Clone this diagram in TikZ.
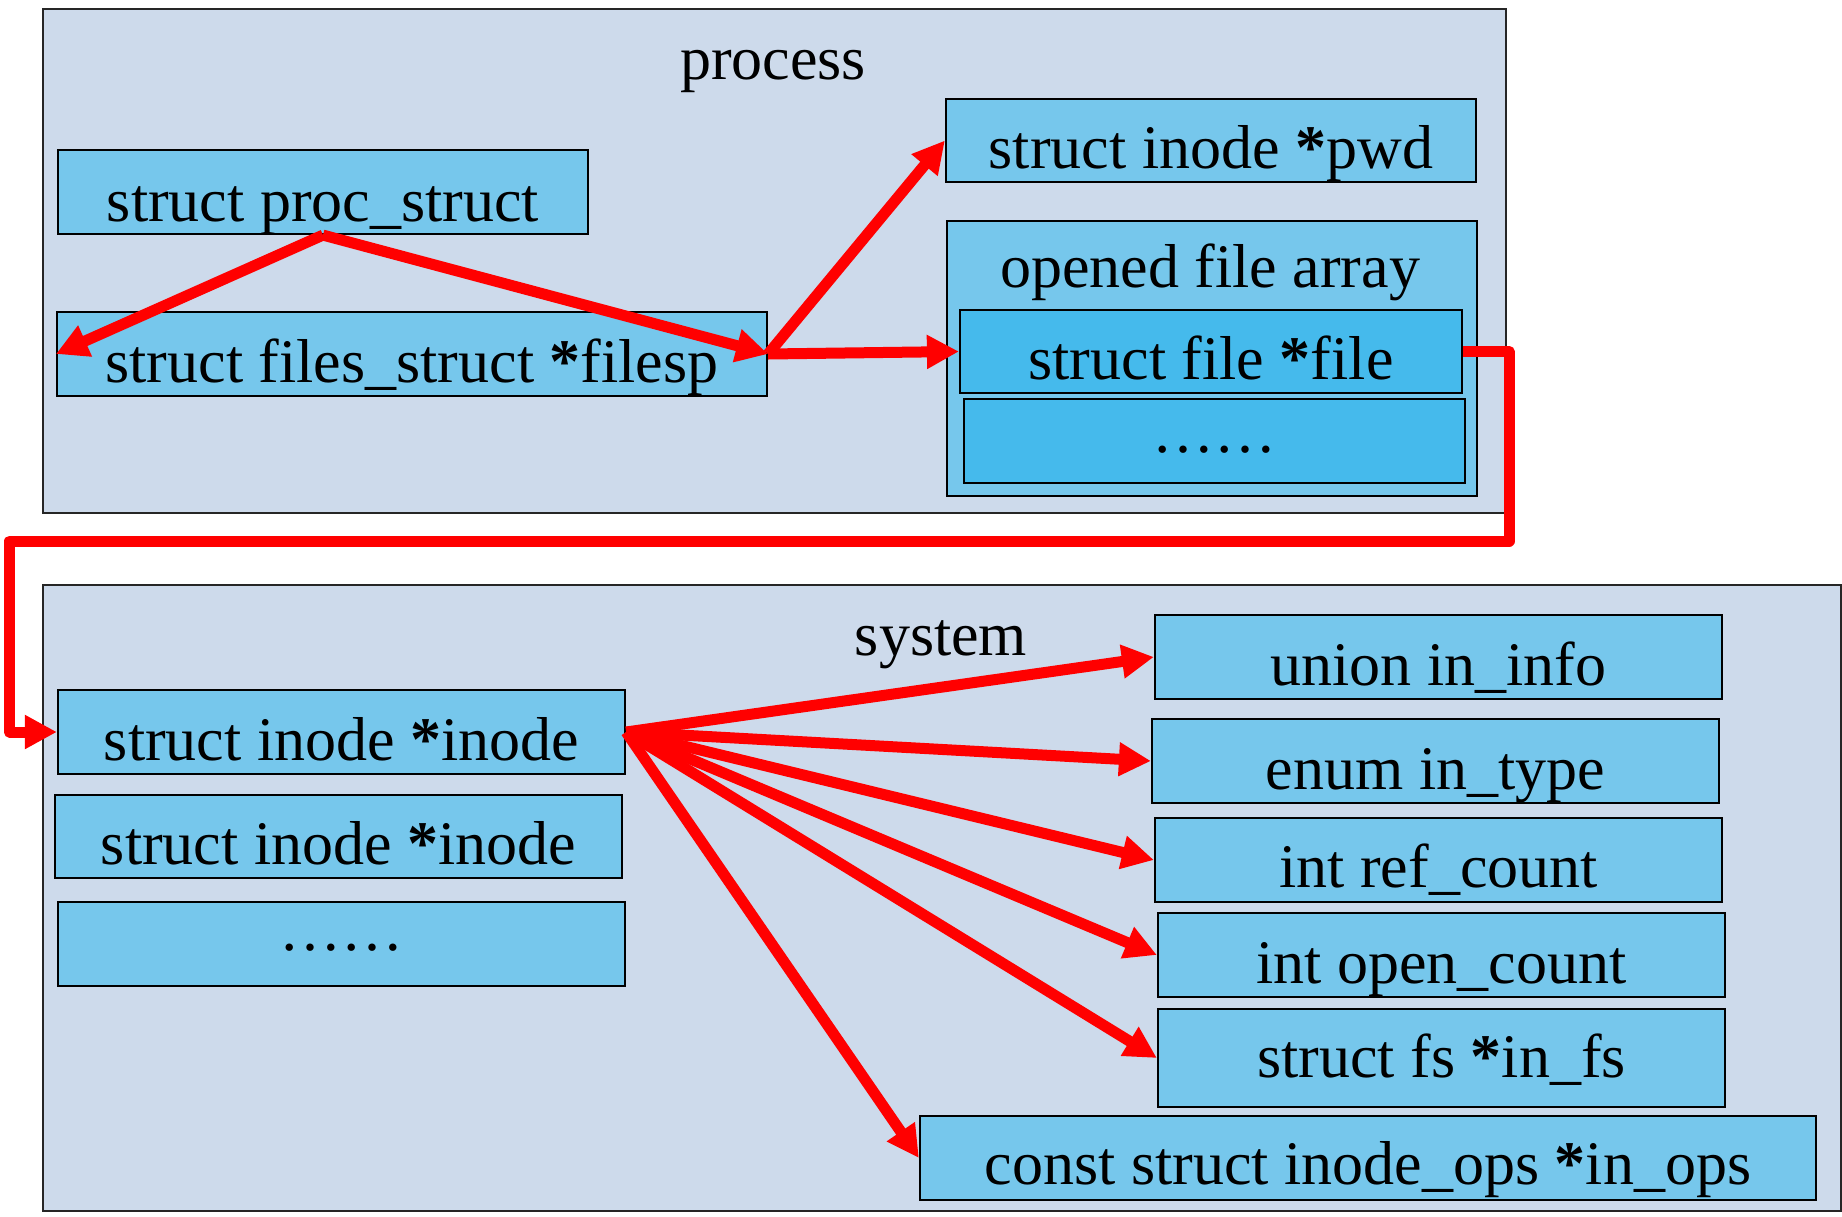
\documentclass[tikz,border=0pt]{standalone}
\usepackage{fontspec}
\setmainfont{Liberation Serif}
\usetikzlibrary{arrows.meta}
\definecolor{contfill}{HTML}{CDDAEB}
\definecolor{boxfill}{HTML}{76C7EC}
\definecolor{innerfill}{HTML}{45BAEC}
\definecolor{linkred}{HTML}{FF0000}
\newcommand\ptrstar{\textbf{*}}
\begin{document}
\begin{tikzpicture}[x=1pt,y=-1pt,
  container/.style={draw=black!85, line width=2pt, fill=contfill, inner sep=0pt, anchor=north west},
  field/.style={draw=black, line width=2.2pt, fill=boxfill, inner sep=0pt, anchor=base,
    font=\fontsize{62pt}{70pt}\selectfont},
  innerfield/.style={field, fill=innerfill},
  title/.style={inner sep=0pt, anchor=base, font=\fontsize{62pt}{70pt}\selectfont},
  link/.style={draw=linkred, line width=11pt, line join=round,
    -{Triangle[length=32pt,width=32pt]}}]
\useasboundingbox (0,0) rectangle (1842,1216);

% containers
\node[container, minimum width=1463pt, minimum height=504pt] (process) at (42,8) {};
\node[container, minimum width=1798pt, minimum height=626pt] (system) at (42,584) {};
\node[title] (ptitle) at (773,79) {process};
\node[title] (stitle) at (941,655) {system};

% process fields
\node[field, minimum width=530pt, text height=71pt, text depth=13pt] (proc) at (323,221) {struct proc\_struct};
\node[field, minimum width=710pt, text height=70pt, text depth=14pt] (files) at (412,382) {struct files\_struct \ptrstar filesp};
\node[field, minimum width=530pt, text height=69pt, text depth=14pt] (pwd) at (1211,168) {struct inode \ptrstar pwd};
\node[field, minimum width=530pt, minimum height=275pt, anchor=north west] (array) at (946,220) {};
\node[title] (atitle) at (1210,287) {opened file array};
\node[innerfield, minimum width=502pt, text height=69pt, text depth=14pt] (file) at (1211,379) {struct file \ptrstar file};
\node[innerfield, minimum width=501pt, text height=53pt, text depth=31pt] (fdots) at (1214.5,452) {……};

% system fields
\node[field, minimum width=567pt, text height=70pt, text depth=14pt] (inodeA) at (341.5,760) {struct inode \ptrstar inode};
\node[field, minimum width=567pt, text height=69pt, text depth=14pt] (inodeB) at (338.5,864) {struct inode \ptrstar inode};
\node[field, minimum width=567pt, text height=48pt, text depth=36pt] (idots) at (341.5,950) {……};

\node[field, minimum width=567pt, text height=70.5pt, text depth=13.5pt] (info) at (1438.5,685.5) {union in\_info};
\node[field, minimum width=567pt, text height=70pt, text depth=14pt] (type) at (1435.5,789) {enum in\_type};
\node[field, minimum width=567pt, text height=69pt, text depth=15pt] (ref) at (1438.5,887) {int ref\_count};
\node[field, minimum width=567pt, text height=70pt, text depth=14pt] (open) at (1441.5,983) {int open\_count};
\node[field, minimum width=567pt, text height=68pt, text depth=30pt] (fs) at (1441.5,1077) {struct fs \ptrstar in\_fs};
\node[field, minimum width=896pt, text height=68.5pt, text depth=15.5pt] (ops) at (1368,1184.5) {const struct inode\_ops \ptrstar in\_ops};

% connectors
\coordinate (e1) at (1509,541);
\coordinate (e2) at (9.5,541);
\draw[link] (proc.south) -- (files.west);
\draw[link] (proc.south) -- (files.east);
\draw[link] (files.east) -- (pwd.west);
\draw[link] (files.east) -- (file.west);
\draw[link] (file.east) -| (e1) -- (e2) |- (inodeA.west);
\draw[link] (inodeA.east) -- (info.west);
\draw[link] (inodeA.east) -- (type.west);
\draw[link] (inodeA.east) -- (ref.west);
\draw[link] (inodeA.east) -- (open.west);
\draw[link] (inodeA.east) -- (fs.west);
\draw[link] (inodeA.east) -- (ops.west);
\end{tikzpicture}
\end{document}
